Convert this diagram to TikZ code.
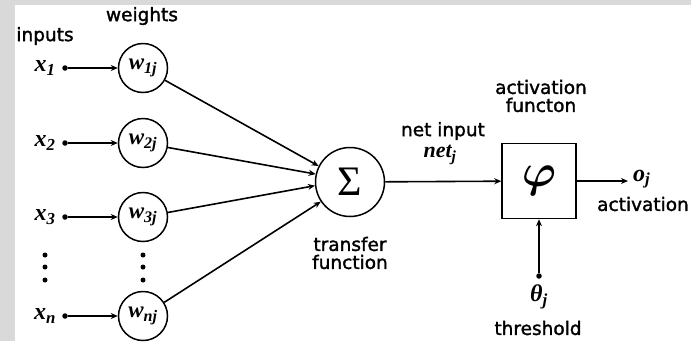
\RequirePackage{fix-cm}
\documentclass[tikz,border=0pt]{standalone}
\usepackage{fontspec}
\newfontfamily\labfont[FakeBold=1.6]{DejaVu Sans}
\newfontfamily\symfont{Liberation Serif}
\usetikzlibrary{arrows.meta}
% italic symbol with a subscript, set in the serif face
\newcommand\sv[2]{{\symfont\bfseries\itshape #1\textsubscript{#2}}}

\begin{document}
\begin{tikzpicture}[x=1pt,y=-1pt,
  lab/.style={font=\labfont\fontsize{18.5}{18}\selectfont, align=center, inner sep=0pt},
  mth/.style={font=\fontsize{24}{24}\selectfont, inner sep=0pt},
  wcirc/.style={draw, circle, line width=1.5pt, minimum size=49pt, inner sep=0pt,
                font=\fontsize{23}{23}\selectfont},
  conn/.style={line width=1.6pt, -{Stealth[length=7pt,width=6pt]}},
  src/.style={circle, fill, inner sep=0pt, minimum size=5.5pt},
  vdot/.style={circle, fill, inner sep=0pt, minimum size=5pt}
]
  \useasboundingbox (0,0) rectangle (691,341);
  % page background with the grey margin strips
  \fill[white] (0,0) rectangle (691,341);
  \fill[black!15] (0,0) rectangle (15,341);
  \fill[black!15] (0,0) rectangle (691,5);

  % column headings
  \node[lab] (inp) at (45,36) {inputs};
  \node[lab] (wts) at (142,16) {weights};

  % inputs and weights
  \foreach \i/\y/\s in {1/68/1, 2/143/2, 3/217/3, n/316/n} {
    \node[mth] (x\i) at (45,\y) {\sv{x}{\s}};
    \node[src] (d\i) at (65,\y) {};
    \node[wcirc] (w\i) at (143,\y) {\sv{w}{\s j}};
    \draw[conn] (d\i) -- (w\i);
  }

  % ellipsis between the third and the last input
  \foreach \k/\yy in {1/255, 2/267, 3/280} {
    \node[vdot] (ex\k) at (45,\yy) {};
    \node[vdot] (ew\k) at (143,\yy) {};
  }

  % summing junction
  \node[draw, circle, minimum size=69pt, line width=1.5pt, inner sep=0pt,
        font=\symfont\fontsize{42}{42}\selectfont] (sig) at (350,182) {Σ};
  \node[lab] (tf) at (350,253) {transfer\\function};

  \draw[conn] (w1) -- (sig.153);
  \draw[conn] (w2) -- (sig.167);
  \draw[conn] (w3) -- (sig.186);
  \draw[conn] (wn) -- (sig.214);

  % activation block
  \node[draw, minimum width=74pt, minimum height=75pt, line width=1.5pt, inner sep=0pt,
        font=\fontsize{46}{46}\selectfont\boldmath] (act) at (539,181) {$\varphi$};
  \node[lab] (af) at (541,96) {activation\\functon};

  \draw[conn] (sig) -- (act);
  \node[lab] (ni) at (443,131) {net input};
  \node[inner sep=0pt, font=\fontsize{22}{22}\selectfont] (net) at (440,155) {\sv{net}{j}};

  % output
  \coordinate (oend) at (628,181);
  \draw[conn] (act) -- (oend);
  \node[mth, anchor=west] (o) at (633,179) {\sv{o}{j}};
  \node[lab] (ao) at (643,204) {activation};

  % threshold input
  \node[src] (th) at (539,276) {};
  \draw[conn] (th) -- (act);
  \node[mth] (thl) at (539,297) {\sv{θ}{j}};
  \node[lab] (thr) at (538,328) {threshold};
\end{tikzpicture}
\end{document}
